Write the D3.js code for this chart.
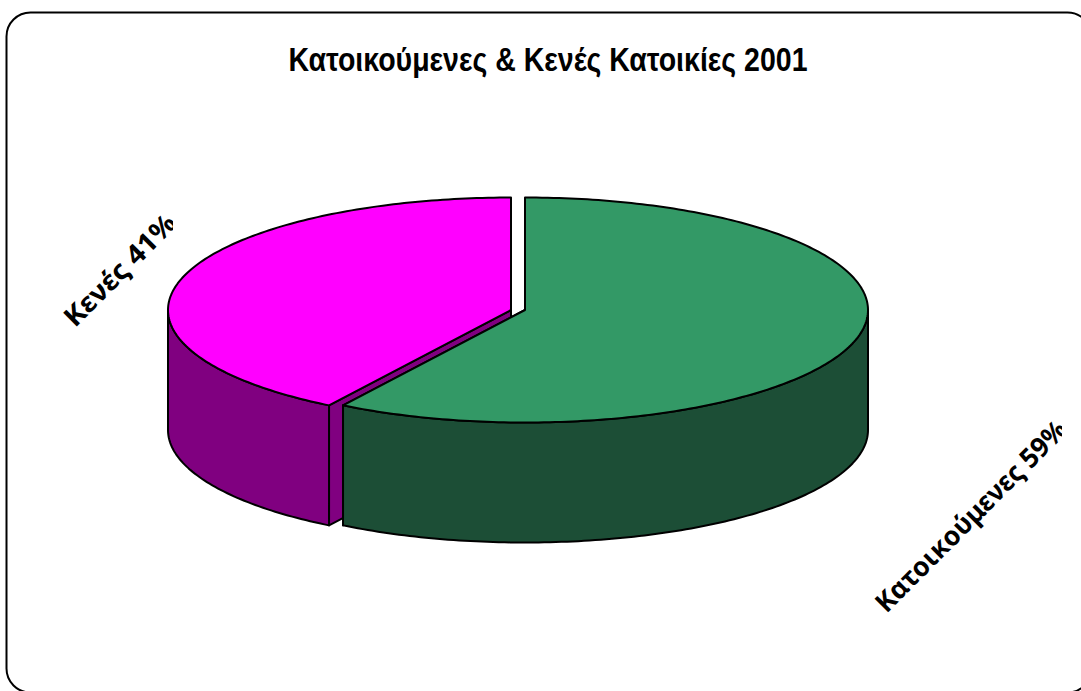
<!DOCTYPE html>
<html>
<head>
<meta charset="utf-8">
<script src="https://cdn.jsdelivr.net/npm/d3@7"></script>
<style>html,body{margin:0;padding:0;background:#fff;overflow:hidden}svg{display:block}</style>
</head>
<body>
<svg id="chart" width="1081" height="691"></svg>
<script>
const titleText = "Κατοικούμενες & Κενές Κατοικίες 2001";
const categories = ["Κατοικούμενες", "Κενές"];
const values = [58.9, 41.1];
const labelTexts = ["Κατοικούμενες 59%", "Κενές 41%"];
const topColors = ["#339966", "#ff00ff"];
const sideColors = ["#1c4e36", "#800080"];

const svg = d3.select("#chart");
const W = 1081, H = 691;
const rx = 343, ry = 112.5, depth = 120, cy = 310;
const centerX = [525, 511];

// Border
svg.append("rect").attr("x", 6.5).attr("y", 12.5).attr("width", 1085).attr("height", 680)
  .attr("rx", 24).attr("ry", 24).attr("fill", "#fff").attr("stroke", "#000").attr("stroke-width", 2);

const defs = svg.append("defs");
defs.append("clipPath").attr("id", "clipR").append("rect")
  .attr("x", 800).attr("y", 380).attr("width", 262).attr("height", 260);
defs.append("clipPath").attr("id", "clipL").append("rect")
  .attr("x", 40).attr("y", 200).attr("width", 133).attr("height", 140);

// Title
svg.append("text").attr("x", 548).attr("y", 71).attr("text-anchor", "middle")
  .attr("font-family", "Liberation Sans").attr("font-weight", "bold").attr("font-size", 33)
  .attr("textLength", 519).attr("lengthAdjust", "spacingAndGlyphs").attr("fill", "#000").text(titleText);

// Pie layout, clockwise from the top
const pie = d3.pie().sort(null).startAngle(0).endAngle(2 * Math.PI);
const arcs = pie(values);

const px = i => d3.scaleLinear().domain([-1, 1]).range([centerX[i] - rx, centerX[i] + rx]);
const py = d3.scaleLinear().domain([-1, 1]).range([cy - ry, cy + ry]);
const line = d3.line();

function rim(i, a0, a1, dy) {
  const x = px(i), n = Math.max(2, Math.ceil((a1 - a0) * 60));
  return d3.range(n + 1).map(k => {
    const a = a0 + (a1 - a0) * k / n;
    return [x(Math.sin(a)), py(-Math.cos(a)) + dy];
  });
}
const vertex = (i, dy) => [px(i)(0), py(0) + dy];
const style = sel => sel.attr("stroke", "#000").attr("stroke-width", 2).attr("stroke-linejoin", "round");

// Drawn back to front: the pink slice, then the green one in front of it.
[1, 0].forEach(i => {
  const d = arcs[i];
  const g = svg.append("g").attr("class", "slice").attr("data-category", categories[i]);
  const a0 = Math.max(d.startAngle, Math.PI / 2), a1 = Math.min(d.endAngle, 3 * Math.PI / 2);
  // cut face running back to the centre
  const cutAngle = i === 1 ? d.startAngle : d.endAngle;
  const outer = rim(i, cutAngle, cutAngle, 0)[0];
  g.append("path").attr("d", line([outer, vertex(i, 0), vertex(i, depth), [outer[0], outer[1] + depth]]) + "Z")
    .attr("fill", sideColors[i]).call(style);
  // outer wall
  const wall = rim(i, a0, a1, 0).concat(rim(i, a0, a1, depth).reverse());
  g.append("path").attr("d", line(wall) + "Z").attr("fill", sideColors[i]).call(style);
  // top face
  const top = [vertex(i, 0)].concat(rim(i, d.startAngle, d.endAngle, 0));
  g.append("path").attr("d", line(top) + "Z").attr("fill", topColors[i]).call(style);
});

// Rotated labels
const labelAt = [[971, 516, "clipR", 258], [120, 270, "clipL", 146]];
labelTexts.forEach((t, i) => {
  const [x, y, clip, len] = labelAt[i];
  svg.append("g").attr("clip-path", `url(#${clip})`).append("text")
    .attr("transform", `translate(${x},${y}) rotate(-45)`)
    .attr("text-anchor", "middle").attr("dy", "0.35em")
    .attr("font-family", "Noto Sans").attr("font-weight", "bold").attr("font-size", 27)
    .attr("textLength", len).attr("lengthAdjust", "spacingAndGlyphs")
    .attr("fill", "#000").text(t);
});
</script>
</body>
</html>
